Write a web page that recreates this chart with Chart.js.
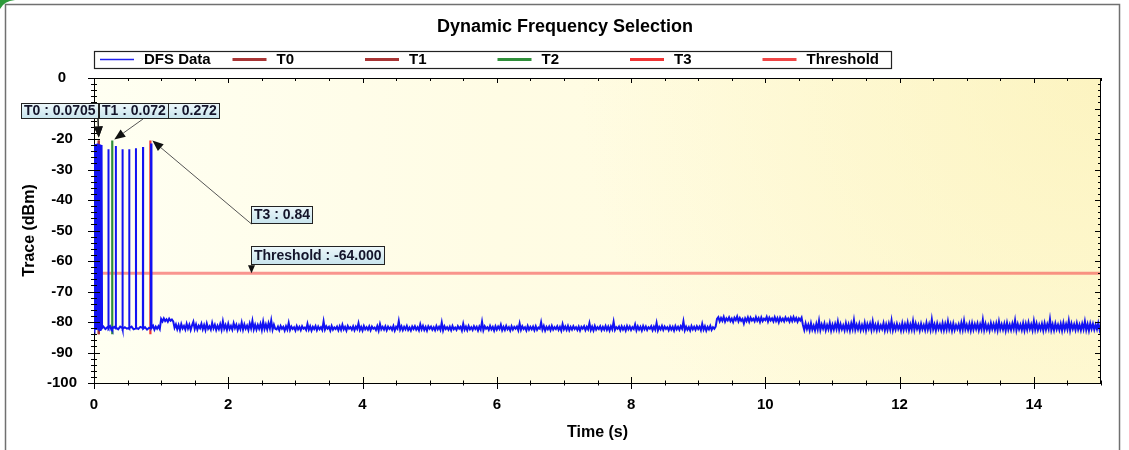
<!DOCTYPE html>
<html><head><meta charset="utf-8">
<script src="https://cdn.jsdelivr.net/npm/chart.js@4.4.1/dist/chart.umd.min.js"></script>
<style>html,body{margin:0;padding:0;background:#fff;}canvas{display:block;}</style>
</head><body>
<canvas id="c" width="1129" height="450"></canvas>
<script>
// ---------- data ----------
const chartTitle = 'Dynamic Frequency Selection';
const xTitle = 'Time (s)';
const yTitle = 'Trace (dBm)';
const seriesLabels = ['DFS Data', 'T0', 'T1', 'T2', 'T3', 'Threshold'];
const markerTimes = [0.0705, 0.072, 0.272, 0.84];
const markerTop = -20.5;
const markerBottom = -84;
const thresholdLevel = -64;
const xTickValues = [0, 2, 4, 6, 8, 10, 12, 14];
const yTickValues = [0, -10, -20, -30, -40, -50, -60, -70, -80, -90, -100];

// burst + pulses (explicit sample times / levels)
const pulseTime = [0.000,0.005,0.010,0.015,0.020,0.025,0.030,0.035,0.040,0.045,0.050,0.055,0.060,0.065,0.070,0.075,0.080,0.085,0.090,0.095,0.100,0.105,0.110,0.115,0.120,
  0.140,0.170,0.200,0.213,0.215,0.217,0.240,0.258,0.270,0.272,0.274,0.300,0.323,0.325,0.327,0.360,0.390,0.423,0.425,0.427,0.460,0.490,0.523,0.525,0.527,0.560,0.590,0.623,0.625,0.627,0.660,0.690,0.728,0.730,0.732,0.760,0.790,0.820,0.848,0.850,0.852];
const pulseLevel = [-82.0,-21.8,-82.5,-22.2,-81.8,-21.6,-82.3,-22.0,-81.6,-21.9,-82.4,-21.5,-81.9,-22.1,-82.2,-21.7,-81.7,-22.4,-82.6,-21.9,-81.8,-22.0,-82.3,-22.5,-82.0,
  -81.5,-82.3,-81.7,-82.0,-23.4,-82.1,-81.4,-82.5,-82.0,-81.9,-82.2,-81.6,-82.1,-22.3,-81.8,-82.4,-81.5,-82.0,-23.4,-82.3,-81.7,-82.2,-81.9,-23.4,-82.0,-81.5,-82.4,-82.1,-23.0,-81.8,-82.3,-81.6,-82.0,-22.6,-82.2,-81.7,-82.5,-81.9,-82.0,-21.5,-82.3];

// noise floor, sampled every floorStep seconds from floorStart
const floorStart = 0.86;
const floorStep = 0.02;
const floorLevel = [
  // 0.86 - 0.98
  -82.0,-81.2,-82.5,-81.5,-82.2,-81.4,-82.3,
  // 1.00 - 1.18
  -79.0,-79.8,-78.8,-79.7,-79.1,-79.9,-78.9,-79.6,-79.2,-79.8,
  // 1.20 - 2.70
  -81.9,-80.8,-82.4,-81.0,-82.6,-80.7,-82.1,-81.3,-82.5,-80.6,
  -82.2,-80.9,-82.6,-81.1,-79.9,-82.3,-80.8,-82.5,-81.2,-82.0,
  -80.6,-82.4,-81.0,-82.6,-80.5,-82.2,-81.4,-82.5,-80.3,-82.1,
  -80.9,-82.6,-81.2,-82.3,-80.7,-82.5,-79.8,-82.2,-81.0,-82.6,
  -80.6,-82.3,-81.3,-82.5,-80.4,-82.0,-80.9,-82.6,-81.1,-82.3,
  -80.2,-82.5,-80.8,-82.2,-81.2,-82.6,-80.5,-82.1,-79.6,-82.4,
  -80.9,-82.5,-81.0,-82.2,-80.6,-82.6,-79.9,-82.3,-80.8,-82.4,
  -80.4,-82.1,-79.5,-82.5,-80.9,-82.2,
  // 2.72 - 9.26
  -82.4,-81.5,-82.7,-81.3,-82.2,-81.6,-82.8,-81.4,-82.5,-80.3,
  -82.6,-81.5,-82.3,-81.7,-82.8,-81.3,-82.4,-81.6,-82.7,-81.4,
  -82.2,-81.8,-82.6,-80.6,-82.5,-81.4,-82.8,-81.6,-82.3,-81.3,
  -82.7,-81.5,-82.4,-81.7,-82.6,-79.8,-82.5,-81.4,-82.2,-81.6,
  -82.8,-81.3,-82.5,-81.8,-82.3,-81.5,-82.7,-81.4,-82.6,-80.9,
  -82.4,-81.6,-82.8,-81.3,-82.2,-81.7,-82.5,-81.4,-82.7,-81.5,
  -82.3,-80.4,-82.6,-81.6,-82.8,-81.3,-82.4,-81.7,-82.5,-81.4,
  -82.7,-81.5,-82.2,-81.8,-82.6,-81.3,-82.8,-80.7,-82.4,-81.6,
  -82.5,-81.4,-82.7,-81.5,-82.3,-81.7,-82.6,-81.3,-82.8,-81.6,
  -82.2,-79.7,-82.5,-81.4,-82.7,-81.6,-82.4,-81.3,-82.6,-81.8,
  -82.8,-81.5,-82.3,-81.4,-82.5,-81.7,-82.7,-80.8,-82.4,-81.3,
  -82.6,-81.6,-82.8,-81.4,-82.2,-81.5,-82.5,-81.7,-82.7,-81.3,
  -82.4,-81.6,-82.6,-80.2,-82.8,-81.4,-82.3,-81.7,-82.5,-81.5,
  -82.7,-81.3,-82.4,-81.8,-82.6,-81.4,-82.2,-81.6,-82.8,-80.6,
  -82.5,-81.5,-82.7,-81.3,-82.4,-81.7,-82.6,-81.4,-82.3,-81.6,
  -82.8,-81.5,-82.5,-79.9,-82.7,-81.4,-82.2,-81.7,-82.6,-81.3,
  -82.4,-81.6,-82.8,-81.4,-82.5,-81.5,-82.3,-80.9,-82.7,-81.6,
  -82.6,-81.3,-82.4,-81.7,-82.8,-81.4,-82.5,-81.6,-82.2,-81.5,
  -82.7,-80.5,-82.6,-81.4,-82.3,-81.7,-82.8,-81.3,-82.5,-81.6,
  -82.4,-81.5,-82.7,-81.4,-82.6,-81.8,-82.2,-80.1,-82.5,-81.3,
  -82.8,-81.6,-82.4,-81.5,-82.7,-81.3,-82.5,-81.7,-82.3,-81.4,
  -82.6,-81.6,-82.8,-80.7,-82.4,-81.5,-82.6,-81.3,-82.7,-81.6,
  -82.5,-81.4,-82.3,-81.7,-82.6,-81.5,-82.8,-81.6,
  -82.2,-81.4,-82.7,-81.6,-82.4,-80.4,-82.6,-81.5,-82.8,-81.3,
  -82.5,-81.7,-82.3,-81.4,-82.7,-81.6,-82.5,-81.3,-82.6,-81.5,
  -82.8,-81.4,-82.4,-79.9,-82.6,-81.7,-82.2,-81.5,-82.7,-81.4,
  -82.5,-81.6,-82.8,-81.3,-82.4,-81.5,-82.6,-81.7,-82.3,-80.8,
  -82.7,-81.4,-82.5,-81.6,-82.8,-81.3,-82.4,-81.5,-82.6,-81.7,
  -82.2,-81.4,-82.7,-81.5,-82.5,-80.3,-82.8,-81.6,-82.4,-81.3,
  -82.6,-81.5,-82.3,-81.7,-82.7,-81.4,-82.5,-81.6,-82.8,-81.3,
  -82.4,-81.6,-82.6,-81.4,-82.2,-79.8,-82.7,-81.5,-82.5,-81.7,
  -82.8,-81.3,-82.4,-81.6,-82.6,-81.4,-82.3,-81.5,-82.7,-80.6,
  -82.5,-81.4,-82.8,-81.6,-82.4,-81.3,-82.6,-81.7,-82.2,-81.5,
  // 9.28 - 10.54
  -79.0,-78.4,-79.8,-78.7,-79.6,-78.3,-79.9,-78.8,-79.5,-78.5,
  -79.7,-78.9,-80.0,-78.6,-79.4,-78.2,-79.8,-78.7,-79.6,-79.0,
  -80.5,-78.8,-79.7,-78.5,-79.9,-78.6,-79.5,-78.9,-79.8,-78.4,
  -79.6,-78.7,-80.0,-78.5,-79.7,-78.9,-79.4,-78.3,-79.9,-78.6,
  -79.5,-78.8,-79.8,-78.4,-79.7,-78.7,-80.1,-78.6,-79.6,-78.9,
  -79.8,-78.5,-79.5,-78.8,-79.9,-78.6,-79.7,-78.4,-79.6,-78.7,
  -79.9,-78.8,-79.5,-78.6,
  // 10.56 - 15.02
  -81.0,-82.6,-80.5,-82.3,-80.9,-82.7,-80.4,-82.5,-81.2,-82.8,
  -80.6,-82.4,-79.6,-82.6,-80.8,-82.2,-80.5,-82.7,-81.0,-82.4,
  -80.3,-82.8,-80.9,-82.5,-80.6,-82.3,-79.9,-82.6,-80.7,-82.4,
  -81.1,-82.7,-80.4,-82.5,-80.8,-82.8,-80.5,-82.3,-79.4,-82.6,
  -80.9,-82.4,-80.6,-82.7,-81.0,-82.5,-80.3,-82.8,-80.7,-82.2,
  -80.5,-82.6,-79.8,-82.4,-80.9,-82.7,-80.6,-82.5,-81.1,-82.3,
  -80.4,-82.8,-80.8,-82.6,-80.5,-82.4,-79.5,-82.7,-80.9,-82.5,
  -80.6,-82.3,-81.0,-82.8,-80.4,-82.6,-80.7,-82.4,-80.2,-82.7,
  -80.8,-82.5,-79.7,-82.6,-80.5,-82.3,-80.9,-82.8,-80.6,-82.4,
  -81.0,-82.7,-80.3,-82.5,-80.7,-82.6,-79.2,-82.4,-80.8,-82.8,
  -80.5,-82.3,-80.9,-82.6,-80.4,-82.7,-80.6,-82.5,-79.8,-82.4,
  -80.7,-82.8,-80.5,-82.6,-81.0,-82.3,-80.8,-82.7,-80.3,-82.5,
  -79.6,-82.4,-80.9,-82.6,-80.6,-82.8,-80.4,-82.5,-80.7,-82.3,
  -80.5,-82.7,-80.8,-82.4,-79.3,-82.6,-80.6,-82.5,-81.0,-82.8,
  -80.4,-82.3,-80.7,-82.6,-80.5,-82.7,-79.9,-82.4,-80.8,-82.5,
  -80.6,-82.8,-80.3,-82.5,-80.9,-82.6,-80.5,-82.3,-79.5,-82.7,
  -80.7,-82.4,-80.9,-82.6,-80.4,-82.8,-80.6,-82.5,-80.2,-82.3,
  -80.8,-82.7,-79.7,-82.5,-80.5,-82.6,-80.9,-82.4,-80.6,-82.8,
  -80.4,-82.5,-80.7,-82.3,-79.1,-82.6,-80.8,-82.7,-80.5,-82.4,
  -80.9,-82.6,-80.6,-82.8,-80.3,-82.5,-80.7,-82.4,-79.6,-82.7,
  -80.5,-82.3,-80.8,-82.6,-80.4,-82.5,-80.9,-82.7,-80.6,-82.4,
  -79.8,-82.6,-80.7,-82.8,-80.5,-82.3,-80.6,-82.5,-80.9,-82.4,
  -80.4,-82.6,-80.8,-82.5
];

// ---------- style ----------
const FONT = '"Liberation Sans", Arial, Helvetica, sans-serif';
const lineColors = ['#1212f2', '#a83434', '#a83434', '#2f8f3a', '#f03434', 'rgba(246,84,84,0.62)'];
const legendColors = ['#2020f0', '#a83434', '#a83434', '#2f8f3a', '#f03434', '#f04646'];
const legendWidths = [1.3, 3, 3, 3, 3, 3];

Chart.defaults.font.family = FONT;

const dfsPoints = pulseTime.map((t, i) => ({x: t, y: pulseLevel[i]}))
  .concat(floorLevel.map((v, i) => ({x: floorStart + i * floorStep, y: v})));

const datasets = [
  {label: seriesLabels[0], data: dfsPoints, borderColor: lineColors[0], borderWidth: 2, order: 1}
];
markerTimes.forEach((t, k) => {
  datasets.push({label: seriesLabels[k + 1], data: [{x: t, y: markerTop}, {x: t, y: markerBottom}],
    borderColor: lineColors[k + 1], borderWidth: 2.2, order: 2});
});
datasets.push({label: seriesLabels[5], data: [{x: 0, y: thresholdLevel}, {x: 15, y: thresholdLevel}],
  borderColor: lineColors[5], borderWidth: 3, order: 3});
datasets.forEach(d => { d.pointRadius = 0; d.fill = false; d.tension = 0; });

function arrow(ctx, x1, y1, x2, y2, color, len, half) {
  ctx.save();
  ctx.strokeStyle = color; ctx.fillStyle = '#111'; ctx.lineWidth = 1;
  const ang = Math.atan2(y2 - y1, x2 - x1);
  const bx = x2 - Math.cos(ang) * len, by = y2 - Math.sin(ang) * len;
  ctx.beginPath(); ctx.moveTo(x1, y1); ctx.lineTo(bx, by); ctx.stroke();
  ctx.beginPath();
  ctx.moveTo(x2, y2);
  ctx.lineTo(bx + Math.sin(ang) * half, by - Math.cos(ang) * half);
  ctx.lineTo(bx - Math.sin(ang) * half, by + Math.cos(ang) * half);
  ctx.closePath(); ctx.fill();
  ctx.restore();
}
function labelBox(ctx, text, x, y, alignRight, h) {
  ctx.save();
  ctx.font = 'bold 14px ' + FONT;
  const w = Math.round(ctx.measureText(text).width + 6);
  const left = alignRight ? x - w : x;
  const g = ctx.createLinearGradient(0, y, 0, y + h);
  g.addColorStop(0, '#eef8fb'); g.addColorStop(1, '#c6e3ec');
  ctx.fillStyle = g; ctx.fillRect(left, y, w, h);
  ctx.strokeStyle = '#222'; ctx.lineWidth = 1;
  ctx.strokeRect(left + 0.5, y + 0.5, w - 1, h - 1);
  ctx.fillStyle = '#14142a'; ctx.textAlign = 'left'; ctx.textBaseline = 'middle';
  ctx.fillText(text, left + 3, y + h / 2 + 0.5);
  ctx.restore();
  return left + w;
}

const decor = {
  id: 'decor',
  beforeDraw(chart) {
    const {ctx, chartArea: a} = chart;
    ctx.save();
    ctx.fillStyle = '#fff'; ctx.fillRect(0, 0, chart.width, chart.height);
    ctx.strokeStyle = '#707070'; ctx.lineWidth = 1.5;
    ctx.strokeRect(5.5, 4.5, 1114, 470);
    ctx.fillStyle = '#2e9a3a';
    ctx.beginPath(); ctx.moveTo(0, 0); ctx.lineTo(15, 0); ctx.quadraticCurveTo(4, 1, 0, 9); ctx.closePath(); ctx.fill();
    const w = a.right - a.left, h = a.bottom - a.top;
    const g = ctx.createLinearGradient(a.left, 0, a.right, 0);
    g.addColorStop(0, '#fffff2'); g.addColorStop(0.4, '#fffce4'); g.addColorStop(1, '#fffbdc');
    ctx.fillStyle = g; ctx.fillRect(a.left, a.top, w, h);
    const r = ctx.createRadialGradient(a.right, a.top, 0, a.right, a.top, 520);
    r.addColorStop(0, 'rgba(250,238,170,0.55)'); r.addColorStop(1, 'rgba(250,238,170,0)');
    ctx.fillStyle = r; ctx.fillRect(a.left, a.top, w, h);
    ctx.font = 'bold 18px ' + FONT; ctx.fillStyle = '#000';
    ctx.textAlign = 'center'; ctx.textBaseline = 'middle';
    ctx.fillText(chartTitle, 565, 27);
    ctx.restore();
  },
  afterDraw(chart) {
    const {ctx, chartArea: a, scales: {x: xs, y: ys}} = chart;
    ctx.save();
    ctx.strokeStyle = '#000'; ctx.lineWidth = 1;
    ctx.beginPath();
    ctx.moveTo(a.left, a.top + 0.5); ctx.lineTo(a.right, a.top + 0.5);
    ctx.moveTo(a.right - 0.5, a.top); ctx.lineTo(a.right - 0.5, a.bottom);
    for (let k = 0; k <= 30; k++) {
      const v = k / 2, px = Math.round(xs.getPixelForValue(v)) + 0.5;
      const major = k % 4 === 0;
      ctx.moveTo(px, a.bottom - (major ? 6 : 2.5)); ctx.lineTo(px, a.bottom + (major ? 6 : 2.5));
      ctx.moveTo(px, a.top); ctx.lineTo(px, a.top + (major ? 5 : 3));
    }
    for (let k = 0; k <= 50; k++) {
      const v = -k * 2, py = Math.round(ys.getPixelForValue(v)) + 0.5;
      const major = k % 5 === 0;
      ctx.moveTo(a.left - (major ? 6 : 3), py); ctx.lineTo(a.left + (major ? 6 : 3), py);
      ctx.moveTo(a.right, py); ctx.lineTo(a.right - (major ? 6 : 3), py);
    }
    ctx.stroke();

    // legend
    ctx.fillStyle = '#fff';
    ctx.fillRect(94, 51, 797, 17);
    ctx.strokeStyle = '#222'; ctx.lineWidth = 1.2;
    ctx.strokeRect(94.5, 51.5, 797, 17);
    ctx.font = 'bold 15px ' + FONT; ctx.textBaseline = 'middle'; ctx.textAlign = 'left';
    seriesLabels.forEach((lab, i) => {
      const x0 = 100 + i * 132.5;
      ctx.strokeStyle = legendColors[i]; ctx.lineWidth = legendWidths[i];
      ctx.beginPath(); ctx.moveTo(x0, 59.5); ctx.lineTo(x0 + 34, 59.5); ctx.stroke();
      ctx.fillStyle = '#000';
      ctx.fillText(lab, x0 + 44, 60);
    });

    // annotations
    const topY = ys.getPixelForValue(markerTop);
    const p0 = xs.getPixelForValue(markerTimes[0]);
    const p1 = xs.getPixelForValue(markerTimes[1]);
    const p2 = xs.getPixelForValue(markerTimes[2]);
    const p3 = xs.getPixelForValue(markerTimes[3]);
    const pth = ys.getPixelForValue(thresholdLevel);
    arrow(ctx, 143, 119, p2 + 2, topY - 1, '#555', 11, 4.5);
    arrow(ctx, 98, 119, p1, topY - 3, '#111', 11, 4.5);
    arrow(ctx, 98, 119, p0, topY - 3, '#111', 11, 4.5);
    arrow(ctx, 251.5, 224, p3 + 2, topY, '#555', 11, 4.5);
    arrow(ctx, 251.5, 264, 251.5, pth, '#111', 8, 3.5);
    labelBox(ctx, 'T2 : ' + markerTimes[2], 220, 103, true, 16);
    const r0 = labelBox(ctx, 'T0 : ' + markerTimes[0], 21, 103, false, 16);
    labelBox(ctx, 'T1 : ' + markerTimes[1], r0, 103, false, 16);
    labelBox(ctx, 'T3 : ' + markerTimes[3], 251, 206, false, 18);
    labelBox(ctx, 'Threshold : ' + thresholdLevel.toFixed(3), 251, 246, false, 19);
    ctx.restore();
  }
};

new Chart(document.getElementById('c'), {
  type: 'line',
  data: {datasets},
  options: {
    responsive: false,
    animation: false,
    events: [],
    layout: {padding: {left: 0, right: 28, top: 78, bottom: 0}},
    plugins: {legend: {display: false}, tooltip: {enabled: false}, title: {display: false}},
    scales: {
      x: {
        type: 'linear', min: 0, max: 15,
        afterBuildTicks: s => { s.ticks = xTickValues.map(v => ({value: v})); },
        afterFit: s => { s.height = 67; },
        ticks: {font: {size: 15, weight: 'bold'}, color: '#000', padding: 13, maxRotation: 0, autoSkip: false},
        grid: {display: false, drawTicks: false},
        border: {display: true, color: '#000', width: 1},
        title: {display: true, text: xTitle, color: '#000', font: {size: 16, weight: 'bold'}, padding: {top: 0, bottom: 8}}
      },
      y: {
        type: 'linear', min: -100, max: 0,
        afterBuildTicks: s => { s.ticks = yTickValues.map(v => ({value: v})); },
        afterFit: s => { s.width = 94; },
        ticks: {font: {size: 15, weight: 'bold'}, color: '#000', padding: 17, crossAlign: 'center', autoSkip: false},
        grid: {display: false, drawTicks: false},
        border: {display: true, color: '#000', width: 1},
        title: {display: true, text: yTitle, color: '#000', font: {size: 16, weight: 'bold'}, padding: {top: 20, bottom: 0}}
      }
    }
  },
  plugins: [decor]
});
</script>
</body></html>
